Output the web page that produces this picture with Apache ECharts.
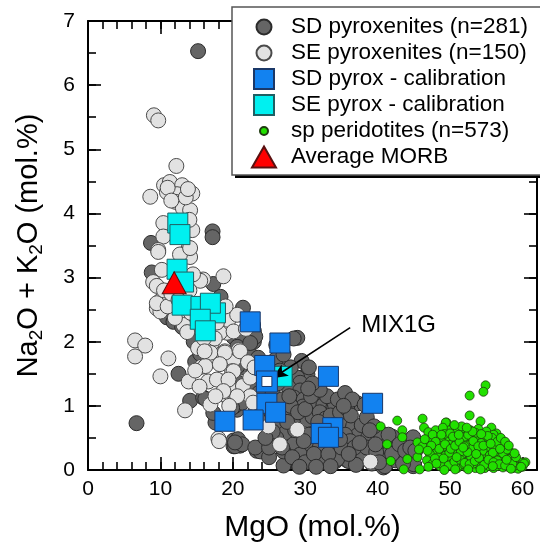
<!DOCTYPE html>
<html><head><meta charset="utf-8">
<script src="https://cdn.jsdelivr.net/npm/echarts@6/dist/echarts.min.js"></script>
<style>html,body{margin:0;padding:0;background:#fff}#c{width:540px;height:548px}</style>
</head><body><div id="c"></div>
<script>
// ---- data (MgO mol.%, Na2O+K2O mol.%) ----
const sdPyroxenites = [
[15.2,6.53],[17.2,3.72],[17.2,3.63],[8.7,3.54],[8.8,3.08],[18.3,2.7],[21.4,2.53],[17.3,2.9],[10.9,2.38],[11.8,2.31],
[13.0,2.23],[12.5,1.5],[14.1,1.08],[6.7,0.73],[15.9,1.13],[14.8,1.69],[17.6,0.74],[16.2,1.11],[17.3,0.89],
[14.6,2.0],[15.5,1.81],[20.1,2.07],[21.2,1.6],[21.9,1.97],[22.2,1.84],[22.9,2.0],[22.9,2.17],[22.0,2.34],[22.8,2.26],
[22.1,2.14],[23.1,2.08],[21.4,2.03],[20.6,1.92],[16.4,2.25],[19.0,1.3],[22.0,1.1],[20.6,0.94],[22.4,1.98],
[23.5,1.75],[23.8,1.5],[23.0,1.3],[22.5,1.45],[23.6,1.2],[21.5,1.1],[20.3,1.0],[23.2,0.95],[20.7,1.36],[21.3,1.05],
[20.6,1.61],[19.9,0.97],
[20.1,0.46],[21.0,0.38],[23.3,0.3],[20.1,0.37],[20.7,0.48],[20.3,0.37],[21.3,0.4],[23.8,0.29],[23.1,0.35],[20.3,0.43],
[28.9,2.06],[28.4,2.05],[26.3,1.66],[25.9,1.72],[30.0,1.47],[30.3,1.49],[28.9,1.44],[29.3,1.36],[27.7,1.29],[29.3,1.24],
[28.4,1.13],[29.8,1.1],[31.1,0.99],[31.1,1.07],[32.5,1.01],[33.9,0.99],[34.1,1.02],[29.7,0.99],[27.0,0.94],[27.9,0.88],
[26.5,0.78],[29.3,0.77],[28.4,0.73],[30.3,0.78],[31.0,0.83],[35.1,0.77],[36.6,0.68],[37.2,0.54],[39.0,0.52],[40.8,0.46],
[42.7,0.44],[44.2,0.23],[44.9,0.06],[41.1,0.08],[37.6,0.23],[35.8,0.15],[34.2,0.14],[34.4,0.29],[32.1,0.15],[31.1,0.46],
[28.9,0.37],[27.0,0.07],[27.9,0.52],[26.1,0.73],[27.3,0.58],[29.3,0.55],[30.7,0.37],[28.4,0.4],[27.0,0.29],[29.3,0.24],
[37.2,1.04],[38.7,0.51],[40.4,0.58],[42.0,0.52],[44.1,0.45],[44.9,0.51],[43.1,0.29],[44.5,0.21],[40.8,0.19],[40.8,0.04],
[36.0,0.14],[38.0,0.21],[34.4,0.17],[41.0,0.06],[45.0,0.09],
[25.5,1.2],[26.2,1.35],[27.2,1.45],[25.8,1.05],[26.8,1.1],[28.0,1.0],[29.0,0.9],[30.0,0.95],[30.8,1.15],[32.0,0.9],
[32.8,0.8],[33.5,0.85],[34.8,0.9],[35.8,0.95],[36.3,0.85],[34.0,0.7],[35.5,0.55],[36.2,0.45],[37.8,0.7],[38.5,0.82],
[39.5,0.68],[33.0,0.45],[32.0,0.35],[31.5,0.6],[30.5,0.55],[29.8,0.45],[28.6,0.62],[27.5,0.75],[26.0,0.5],[25.5,0.6],
[26.8,0.35],[28.2,0.2],[30.0,0.12],[31.2,0.25],[33.2,0.25],[35.0,0.35],[36.8,0.35],[38.5,0.35],[39.8,0.28],[41.8,0.32],
[42.5,0.15],[43.5,0.1],[39.2,0.1],[37.0,0.08],[33.5,0.06],[29.2,0.05],[25.0,0.2],[24.5,0.8],[24.0,1.0],[25.0,0.35],
[31.8,0.75],[33.0,1.15],[34.5,1.1],[35.5,1.2],[32.0,1.25],[31.0,1.35],[36.5,1.1],[38.2,1.02],[29.5,1.7],[30.5,1.6],
[28.0,1.6],[27.0,1.8],[25.5,1.5],[26.0,1.95],
[24.5,0.5],[25.3,0.9],[26.5,1.55],[27.8,1.15],[31.5,0.05],[32.5,0.6],[34.8,0.48],[36.0,0.25],[37.5,0.42],[38.9,0.62],
[39.7,0.4],[40.2,0.12],[41.5,0.55],[42.0,0.25],[43.0,0.4],[43.8,0.3],[44.5,0.35],[45.2,0.3],[35.3,1.0],[30.4,1.27]
];
const sePyroxenites = [
[9.1,5.53],[9.7,5.45],[12.2,4.74],[8.6,4.26],[10.5,4.44],[11.3,4.49],[13.0,4.44],[10.9,4.33],[12.3,4.3],[14.4,4.31],
[12.1,4.18],[13.1,4.08],[14.1,4.05],[10.4,3.85],[10.4,3.64],[14.4,3.74],[12.7,3.69],[9.7,3.43],[13.9,3.46],[14.1,3.32],
[12.7,3.36],[10.2,3.12],[9.7,3.4],[14.1,3.46],[11.0,4.4],[13.5,4.25],[14.0,3.9],[11.5,4.2],[13.8,4.38],
[18.7,3.02],[15.9,2.97],[9.0,2.93],[9.5,2.87],[10.0,2.64],[9.5,2.52],[10.9,2.67],[12.3,2.48],[13.2,2.33],[15.5,2.95],
[13.2,2.26],[12.0,2.37],[10.0,2.47],[9.5,2.6],[11.0,2.55],[14.0,2.8],[14.5,3.05],[10.5,2.8],[11.5,2.75],[12.5,2.65],
[14.2,2.45],[13.7,2.15],
[6.5,2.02],[7.9,1.94],[6.5,1.77],[11.1,1.74],[10.0,1.46],[13.9,1.38],[13.4,0.93],[18.0,0.49],
[16.9,1.02],[18.5,1.18],[16.6,1.38],[18.5,1.38],[15.7,1.61],[17.3,1.77],[15.2,1.9],[17.1,1.98],[18.9,1.85],[20.1,1.72],
[19.9,1.54],[20.8,1.87],[21.3,1.25],[19.9,1.25],[18.0,2.14],[19.2,2.14],[19.4,2.34],[16.9,2.24],[18.2,2.14],[20.1,2.16],
[16.9,1.83],[18.9,1.83],[21.0,1.85],[22.1,1.68],[16.2,1.62],[18.2,1.65],[20.1,1.54],[17.8,1.41],[19.4,1.41],[21.4,1.31],
[22.4,1.44],[22.4,1.15],[20.6,1.15],[18.7,1.23],[17.5,2.05],[16.0,2.05],[19.5,1.0],[17.6,1.15],[15.4,1.3],[14.8,1.55],
[16.1,1.85],[21.8,2.2],[20.6,2.42],[19.0,2.55],[17.8,2.3],[23.0,1.6],[22.8,1.05],
[24.9,0.68],[26.5,0.4],[28.9,0.63],[18.1,0.45],[39.0,0.13]
];
const spPeridotites = [
[54.9,1.32],[54.6,1.22],[52.7,1.16],[52.7,0.85],[54.2,0.76],[55.7,0.66],[56.4,0.57],[49.5,0.74],[50.3,0.62],[52.1,0.58],
[53.4,0.54],[57.2,0.43],[58.3,0.28],[60.4,0.12],[59.5,0.09],[40.4,0.68],[42.7,0.77],[43.4,0.62],[43.4,0.51],[46.2,0.8],
[46.4,0.66],[47.0,0.59],[41.3,0.4],[41.8,0.14],[43.6,0.01],[45.8,0.01],[45.5,0.2],[45.5,0.43],[44.1,0.17],[49.6,0.63],
[57.5,0.36],[49.4,0.74],[48.2,0.51],[47.0,0.45],[46.2,0.37],[45.7,0.32],[47.3,0.32],[48.7,0.43],
[47.5,0.48],[48.3,0.5],[49.0,0.45],[49.8,0.52],[50.6,0.48],[51.4,0.5],[52.3,0.46],[53.0,0.5],[53.8,0.47],[54.6,0.5],
[55.3,0.45],[56.0,0.42],[56.8,0.38],[50.2,0.4],[51.8,0.42],[53.4,0.4],[55.0,0.38],[48.6,0.38],[47.8,0.35],
[48.2,0.28],[49.0,0.3],[49.6,0.35],[50.4,0.31],[51.1,0.36],[51.9,0.3],[52.6,0.34],[53.3,0.28],[54.1,0.33],[54.8,0.27],
[55.6,0.31],[56.3,0.27],[57.1,0.3],[57.8,0.24],[58.6,0.2],[50.8,0.25],[52.2,0.23],[53.8,0.22],[55.2,0.2],[56.7,0.2],[49.3,0.22],
[48.8,0.15],[49.7,0.12],[50.5,0.17],[51.2,0.12],[51.8,0.18],[52.5,0.14],[53.1,0.17],[53.7,0.11],[54.4,0.16],[55.0,0.1],
[55.7,0.14],[56.3,0.1],[57.0,0.13],[57.7,0.1],[58.4,0.12],[59.0,0.08],[59.7,0.12],[58.9,0.15],[50.0,0.2],[51.5,0.22],
[52.9,0.2],[54.6,0.21],[56.0,0.19],[57.4,0.18],
[49.4,0.04],[50.2,0.06],[51.0,0.03],[51.6,0.07],[52.2,0.04],[52.8,0.07],[53.5,0.03],[54.1,0.06],[54.8,0.03],[55.4,0.06],
[56.0,0.03],[56.6,0.06],[57.3,0.04],[58.0,0.05],[58.7,0.03],[59.3,0.05],[60.0,0.05],[48.6,0.06],
[48.0,0.62],[49.0,0.66],[51.0,0.6],[51.6,0.68],[52.8,0.62],[53.9,0.64],[55.0,0.6],[56.0,0.55],[50.6,0.7],[47.6,0.55],
[49.2,0.56],[50.0,0.57],[52.0,0.52],[53.5,0.58],[54.3,0.42],[55.8,0.5],[50.9,0.43],[52.7,0.39],[48.0,0.44],[49.9,0.27],
[51.5,0.29],[53.0,0.33],[54.5,0.3],[56.1,0.35],[57.3,0.26],[50.3,0.1],[51.9,0.09],[53.2,0.1],[54.9,0.13],[56.5,0.15],
[58.2,0.17],[59.4,0.02],[55.5,0.23],[52.4,0.28],[48.4,0.2],[47.2,0.25],[46.8,0.15],[47.6,0.1],[46.5,0.48],[48.9,0.09],
[57.9,0.32],[58.8,0.06],[60.2,0.1],
[47.9,0.18],[48.5,0.33],[49.3,0.4],[50.1,0.33],[50.7,0.38],[51.3,0.44],[52.0,0.37],[52.5,0.55],[53.2,0.45],[53.9,0.37],
[54.6,0.38],[55.2,0.53],[55.9,0.27],[56.5,0.44],[57.0,0.5],[57.6,0.44],[58.1,0.38],[58.6,0.1],[59.1,0.2],[59.8,0.05],
[49.1,0.18],[49.8,0.07],[50.6,0.13],[51.4,0.16],[52.0,0.11],[52.7,0.09],[53.4,0.14],[54.0,0.19],[54.7,0.08],[55.3,0.16],
[56.0,0.12],[56.8,0.09],[57.6,0.07],[58.4,0.02],[48.1,0.1],[47.4,0.38],[46.9,0.3],[48.8,0.55],[50.4,0.52],[51.2,0.55],
[53.1,0.6],[54.3,0.56],[55.6,0.41],[56.9,0.33],[57.8,0.16],[58.9,0.26],[52.3,0.66],[51.8,0.35],[50.9,0.2],[53.6,0.25],
[55.9,0.06],[54.2,0.01],[52.5,0.01],[50.7,0.01],[49.2,0.0],[47.0,0.05]
];
const sdCalibration = [
[22.4,2.31],[26.5,1.98],[24.4,1.63],[33.2,1.46],[39.3,1.04],[24.7,1.04],[25.9,0.9],[18.9,0.76],[22.8,0.78],[33.8,0.66],
[32.2,0.57],[33.2,0.51]
];
const seCalibration = [
[12.4,3.85],[12.7,3.67],[12.3,3.13],[13.2,2.93],[13.0,2.57],[15.6,2.55],[17.6,2.45],[16.9,2.6],[15.5,2.35],[16.2,2.17],
[26.8,1.46]
];
const averageMORB = [[11.9,2.92]];
const mix1g = [[24.7,1.38]];
const mix1gLabel = [42.9,2.25];
const arrowFrom = [36.2,2.22];
const arrowTo = [25.5,1.43];
const seriesNames = ['SD pyroxenites (n=281)','SE pyroxenites (n=150)','SD pyrox - calibration','SE pyrox - calibration','sp peridotites (n=573)','Average MORB'];
const xTicksMajor = 10, xTicksMinor = 2, yTicksMajor = 1, yTicksMinor = 0.5;

const FONT = '"Liberation Sans", Arial, Helvetica, sans-serif';
const chart = echarts.init(document.getElementById('c'), null, {renderer:'canvas'});

function xAx(pos, interval, major, labels) {
  return {
    type:'value', min:0, max:62, interval: interval, position: pos, gridIndex:0,
    splitLine:{show:false},
    axisLine:{show: major, onZero:false, lineStyle:{color:'#000', width:2}},
    axisTick:{show:true, inside:true, length: major?13:8, lineStyle:{color:'#000', width:1.6}},
    axisLabel: labels ? {show:true, color:'#000', fontSize:21, fontFamily:FONT, margin:9,
      formatter: v => (v % 10 === 0 ? String(v) : '')} : {show:false}
  };
}
function yAx(pos, interval, major, labels) {
  return {
    type:'value', min:0, max:7, interval: interval, position: pos, gridIndex:0,
    splitLine:{show:false},
    axisLine:{show: major, onZero:false, lineStyle:{color:'#000', width:2}},
    axisTick:{show:true, inside:true, length: major?13:8, lineStyle:{color:'#000', width:1.6}},
    axisLabel: labels ? {show:true, color:'#000', fontSize:21, fontFamily:FONT, margin:13} : {show:false}
  };
}
const xAxes = [xAx('bottom', xTicksMajor, true, true), xAx('bottom', xTicksMinor, false, false),
               xAx('top', xTicksMajor, true, false), xAx('top', xTicksMinor, false, false)];
xAxes[0].name = 'MgO (mol.%)';
xAxes[0].nameLocation = 'middle';
xAxes[0].nameGap = 43;
xAxes[0].nameTextStyle = {fontSize:30, fontFamily:FONT, color:'#000'};
const yAxes = [yAx('left', yTicksMajor, true, true), yAx('left', yTicksMinor, false, false),
               yAx('right', yTicksMajor, true, false), yAx('right', yTicksMinor, false, false)];
yAxes[0].name = 'Na{s|2}O + K{s|2}O (mol.%)';
yAxes[0].nameLocation = 'middle';
yAxes[0].nameGap = 42;
yAxes[0].nameTextStyle = {fontSize:29, fontFamily:FONT, color:'#000',
  rich:{s:{fontSize:19, fontFamily:FONT, color:'#000', padding:[16,0,0,0]}}};

// legend icon sizes [w,h]; icons centred at x=263, text starts at x=290
const legendIcon = [[15,15],[15,15],[20,20],[20,20],[8,8],[24,21]];
const legends = seriesNames.map((n, i) => {
  const w = legendIcon[i][0], h = legendIcon[i][1];
  const left = 263 - w / 2;
  return {
    data:[n], left: left, top: 27 + i*26 - 13, orient:'horizontal', padding:0,
    itemWidth: w, itemHeight: h, selectedMode:false, z:20,
    textStyle:{fontSize:22.5, fontFamily:FONT, color:'#000', lineHeight:26,
      padding:[0,0,0, 290 - (left + w + 5)]}
  };
});

const base = {type:'scatter', xAxisIndex:0, yAxisIndex:0, silent:true, animation:false};
chart.setOption({
  animation:false,
  grid:{left:88, right:3, top:21, bottom:77, containLabel:false},
  xAxis: xAxes, yAxis: yAxes,
  legend: legends,
  graphic:[
    {type:'rect', shape:{x:235, y:10, width:330, height:168}, style:{fill:'#000'}, z:10, silent:true},
    {type:'rect', shape:{x:232, y:7, width:330, height:168}, style:{fill:'#fff', stroke:'#555', lineWidth:1.5}, z:11, silent:true}
  ],
  series:[
    Object.assign({}, base, {name:seriesNames[0], data:sdPyroxenites, symbol:'circle', symbolSize:15,
      itemStyle:{color:'#656565', borderColor:'#2b2b2b', borderWidth:1, opacity:1}, z:2}),
    Object.assign({}, base, {name:seriesNames[1], data:sePyroxenites, symbol:'circle', symbolSize:15,
      itemStyle:{color:'#e2e2e2', borderColor:'#4a4a4a', borderWidth:1, opacity:1}, z:2}),
    Object.assign({}, base, {name:seriesNames[4], data:spPeridotites, symbol:'circle', symbolSize:9,
      itemStyle:{color:'#22e000', borderColor:'#1f3a10', borderWidth:0.8, opacity:1}, z:3}),
    Object.assign({}, base, {name:seriesNames[3], data:seCalibration, symbol:'rect', symbolSize:20,
      itemStyle:{color:'#00f0f0', borderColor:'#1f5f63', borderWidth:1, opacity:1}, z:4}),
    Object.assign({}, base, {name:seriesNames[2], data:sdCalibration, symbol:'rect', symbolSize:20,
      itemStyle:{color:'#1282f0', borderColor:'#1a3868', borderWidth:1, opacity:1}, z:5}),
    Object.assign({}, base, {name:'MIX1G', data:mix1g, symbol:'rect', symbolSize:21,
      itemStyle:{color:'#1282f0', borderColor:'#1a3868', borderWidth:1, opacity:1}, z:6,
      markLine:{silent:true, animation:false, symbol:['none','arrow'], symbolSize:[10,15],
        lineStyle:{color:'#000', width:1.6, type:'solid'}, label:{show:false},
        data:[[{coord:arrowFrom},{coord:arrowTo}]]},
      markPoint:{silent:true, animation:false, symbol:'rect', symbolSize:1, itemStyle:{color:'rgba(0,0,0,0)'},
        label:{show:true, position:'inside', formatter:'MIX1G', fontSize:24, fontFamily:FONT, color:'#000'},
        data:[{coord:mix1gLabel}]}}),
    Object.assign({}, base, {name:'MIX1G inner', data:mix1g, symbol:'rect', symbolSize:10,
      itemStyle:{color:'#ffffff', borderColor:'#1a3868', borderWidth:1, opacity:1}, z:7}),
    Object.assign({}, base, {name:seriesNames[5], data:averageMORB, symbol:'triangle', symbolSize:[24,22],
      itemStyle:{color:'#ff0000', borderColor:'#5a1010', borderWidth:1, opacity:1}, z:8})
  ]
});
</script></body></html>
